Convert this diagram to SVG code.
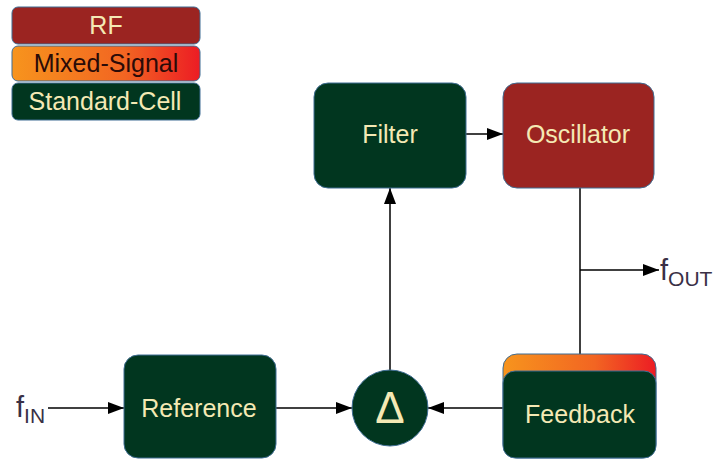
<svg xmlns="http://www.w3.org/2000/svg" width="717" height="460" viewBox="0 0 717 460">
  <defs>
    <linearGradient id="mixed" x1="0" y1="0" x2="1" y2="0">
      <stop offset="0" stop-color="#f7941d"/>
      <stop offset="0.6" stop-color="#f26522"/>
      <stop offset="1" stop-color="#ec1c24"/>
    </linearGradient>
    <marker id="arrowBig" viewBox="0 0 16 12" refX="16" refY="6" markerWidth="16" markerHeight="12" markerUnits="userSpaceOnUse" orient="auto">
      <path d="M0,0 L16,6 L0,12 z" fill="#000"/>
    </marker>
  </defs>
  <style>
    .cell { fill: #01361f; stroke: #3f6d93; stroke-width: 1; }
    .rf { fill: #9b2421; stroke: #3f6d93; stroke-width: 1; }
    .ms { fill: url(#mixed); stroke: #3f6d93; stroke-width: 1; }
    .label { font-family: "Liberation Sans", Arial, sans-serif; font-size: 25px; fill: #f4e9b4; text-anchor: middle; }
    .dark { fill: #2a0b08; }
    .wire { stroke: #000; stroke-width: 1.5; fill: none; }
    .sig { font-family: "Liberation Sans", Arial, sans-serif; fill: #3a3046; }
  </style>

  <!-- legend -->
  <g id="legend">
    <rect class="rf" x="12" y="7" width="188" height="37" rx="6"/>
    <text class="label" x="106" y="34">RF</text>
    <rect class="ms" x="12" y="46" width="188" height="35" rx="6"/>
    <text class="label dark" x="106" y="72">Mixed-Signal</text>
    <rect class="cell" x="12" y="83" width="188" height="37" rx="6"/>
    <text class="label" x="105" y="110">Standard-Cell</text>
  </g>

  <!-- connectors -->
  <g id="connectors">
    <line class="wire" x1="48" y1="408" x2="124" y2="408" marker-end="url(#arrowBig)"/>
    <line class="wire" x1="276" y1="408" x2="352" y2="408" marker-end="url(#arrowBig)"/>
    <line class="wire" x1="503" y1="408" x2="428" y2="408" marker-end="url(#arrowBig)"/>
    <line class="wire" x1="390" y1="370" x2="390" y2="188" marker-end="url(#arrowBig)"/>
    <line class="wire" x1="466" y1="134" x2="503" y2="134" marker-end="url(#arrowBig)"/>
    <line class="wire" x1="580" y1="188" x2="580" y2="354"/>
    <line class="wire" x1="580" y1="270" x2="659" y2="270" marker-end="url(#arrowBig)"/>
  </g>

  <!-- nodes -->
  <g id="filter">
    <rect class="cell" x="314" y="83" width="152" height="105" rx="14"/>
    <text class="label" x="390" y="143">Filter</text>
  </g>
  <g id="oscillator">
    <rect class="rf" x="503" y="83" width="151" height="105" rx="14"/>
    <text class="label" x="578" y="143">Oscillator</text>
  </g>
  <g id="reference">
    <rect class="cell" x="124" y="355" width="152" height="103" rx="14"/>
    <text class="label" x="199" y="417">Reference</text>
  </g>
  <g id="delta">
    <circle class="cell" cx="390" cy="408" r="38"/>
    <text class="label" x="390" y="423" style="font-size:44px">Δ</text>
  </g>
  <g id="feedback">
    <rect class="ms" x="503" y="354" width="153" height="104" rx="14"/>
    <rect class="cell" x="503" y="371" width="153" height="87" rx="12"/>
    <text class="label" x="580" y="423">Feedback</text>
  </g>

  <!-- signal labels -->
  <g id="f-in">
    <text class="sig" x="16" y="417" style="font-size:29px">f<tspan dy="6" style="font-size:21px">IN</tspan></text>
  </g>
  <g id="f-out">
    <text class="sig" x="660" y="280" style="font-size:29px">f<tspan dy="6" style="font-size:21px">OUT</tspan></text>
  </g>
</svg>
